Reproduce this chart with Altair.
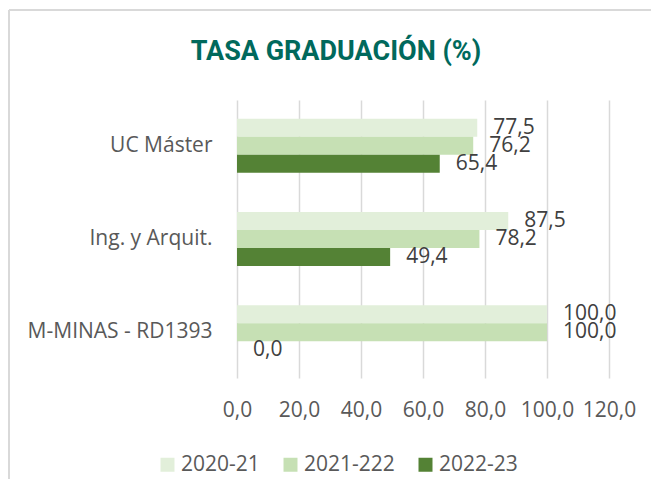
import altair as alt
import pandas as pd

categories = ["UC Máster", "Ing. y Arquit.", "M-MINAS - RD1393"]
series = ["2020-21", "2021-222", "2022-23"]
v_2020_21 = [77.5, 87.5, 100.0]
v_2021_222 = [76.2, 78.2, 100.0]
v_2022_23 = [65.4, 49.4, 0.0]
colors = ["#E2EFDA", "#C6E0B4", "#548235"]
x_ticks = [0, 20, 40, 60, 80, 100, 120]
title_text = "TASA GRADUACIÓN (%)"

rows = []
for s, vals in zip(series, [v_2020_21, v_2021_222, v_2022_23]):
    for c, v in zip(categories, vals):
        rows.append({"cat": c, "serie": s, "valor": v})
df = pd.DataFrame(rows)

W, H = 372, 278
FONT = "Open Sans"
comma = "replace(format({v},'.1f'),'.',',')"

y_enc = alt.Y(
    "cat:N", sort=categories,
    scale=alt.Scale(paddingInner=0.42, paddingOuter=0.2),
    axis=alt.Axis(title=None, labelFontSize=21, labelColor="#595959", labelFont=FONT,
                  labelPadding=25, labelLimit=400, ticks=False, domain=False, grid=False),
)
x_enc = alt.X(
    "valor:Q",
    scale=alt.Scale(domain=[0, 120], nice=False),
    axis=alt.Axis(values=x_ticks, title=None, labelExpr=comma.format(v="datum.value"),
                  labelOverlap=False, labelFlush=False,
                  grid=True, gridColor="#D9D9D9", gridWidth=1.5, ticks=False, domain=False,
                  labelFontSize=21, labelColor="#595959", labelFont=FONT, labelPadding=21),
)
yoff = alt.YOffset("serie:N", sort=series,
                   scale=alt.Scale(domain=series, paddingInner=0, paddingOuter=0))

base = alt.Chart(df)

bars = base.mark_bar().encode(
    x=x_enc, y=y_enc, yOffset=yoff,
    color=alt.Color("serie:N", sort=series,
                    scale=alt.Scale(domain=series, range=colors),
                    legend=alt.Legend(orient="none", legendX=-80, legendY=354,
                                      direction="horizontal", title=None,
                                      symbolType="square", symbolSize=196,
                                      symbolStrokeWidth=0,
                                      labelFontSize=21, labelColor="#595959",
                                      labelFont=FONT, columnPadding=20, labelOffset=3)),
)

labels = base.transform_calculate(
    lab=comma.format(v="datum.valor")
).mark_text(align="left", baseline="middle", dx=16, fontSize=21,
            color="#404040", font=FONT).encode(
    x="valor:Q", y=alt.Y("cat:N", sort=categories), yOffset=yoff, text="lab:N"
)

title = alt.Chart(pd.DataFrame({"t": [title_text]})).mark_text(
    font="Roboto", fontSize=27, fontWeight="bold",
    color="#00695C", align="center", baseline="middle",
).encode(text="t:N", x=alt.value(99), y=alt.value(-48))

one = pd.DataFrame({"a": [0]})
top_line = alt.Chart(one).mark_rule(color="#D9D9D9", strokeWidth=2).encode(
    x=alt.value(-228), x2=alt.value(414), y=alt.value(-90))
left_line = alt.Chart(one).mark_rule(color="#D9D9D9", strokeWidth=2).encode(
    x=alt.value(-228), y=alt.value(-90), y2=alt.value(379))

chart = alt.layer(bars, labels, title, top_line, left_line).properties(
    width=W, height=H,
    autosize=alt.AutoSizeParams(type="none"),
    padding={"left": 229, "top": 92, "right": 42, "bottom": 101},
).configure_view(stroke=None)

chart.save("out.html", embed_options={"renderer": "svg", "actions": False})
